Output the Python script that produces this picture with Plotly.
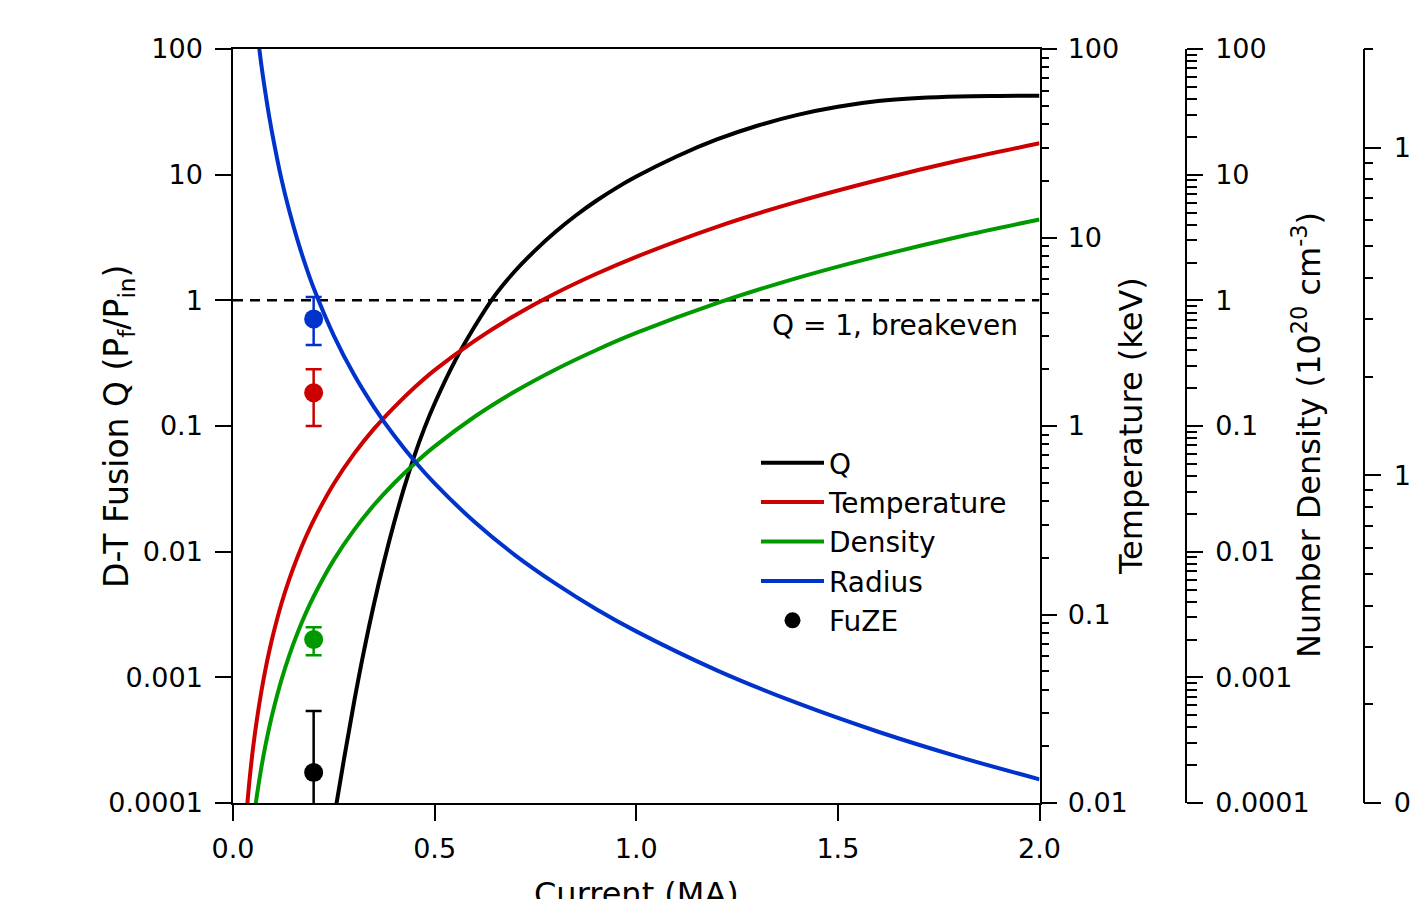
import plotly.graph_objects as go

# ---------------- data ----------------
# Fusion gain Q vs current (MA), left axis
q_current = [0.25, 0.275, 0.30, 0.325, 0.35, 0.375, 0.40, 0.425, 0.45, 0.475, 0.50, 0.55,
             0.60, 0.65, 0.70, 0.75, 0.80, 0.85, 0.90, 0.95, 1.0, 1.1, 1.2, 1.3, 1.4, 1.5,
             1.6, 1.7, 1.8, 1.9, 2.0]
q_values = [7.4e-5, 2.21e-4, 6.3e-4, 1.64e-3, 3.89e-3, 8.47e-3, 0.0172, 0.0328, 0.0582,
            0.0966, 0.151, 0.327, 0.624, 1.10, 1.72, 2.51, 3.51, 4.73, 6.17, 7.82, 9.66,
            13.96, 19.05, 24.5, 29.9, 34.7, 38.5, 40.7, 41.9, 42.3, 42.5]

# Temperature (keV) vs current
t_current = [0.03, 0.04, 0.05, 0.06, 0.07, 0.08, 0.09, 0.10, 0.12, 0.14, 0.16, 0.18, 0.20,
             0.25, 0.30, 0.35, 0.40, 0.45, 0.50, 0.6, 0.7, 0.8, 0.9, 1.0, 1.2, 1.4, 1.6,
             1.8, 2.0]
t_values = [0.0071, 0.0126, 0.0198, 0.0284, 0.0387, 0.0506, 0.064, 0.079, 0.114, 0.155,
            0.202, 0.256, 0.316, 0.494, 0.711, 0.968, 1.26, 1.60, 1.98, 2.84, 3.87, 5.06,
            6.40, 7.9, 11.4, 15.5, 20.2, 25.6, 31.6]

# Number density (1e20 cm^-3) vs current
n_current = [0.05, 0.06, 0.07, 0.08, 0.09, 0.10, 0.12, 0.14, 0.16, 0.18, 0.20, 0.25, 0.30,
             0.35, 0.40, 0.45, 0.50, 0.6, 0.7, 0.8, 0.9, 1.0, 1.2, 1.4, 1.6, 1.8, 2.0]
n_values = [6.9e-5, 1.19e-4, 1.89e-4, 2.82e-4, 4.01e-4, 5.5e-4, 9.5e-4, 1.51e-3, 2.25e-3,
            3.21e-3, 4.4e-3, 8.6e-3, 0.01485, 0.0236, 0.0352, 0.0501, 0.0688, 0.119,
            0.189, 0.282, 0.401, 0.55, 0.950, 1.51, 2.25, 3.21, 4.4]

# Pinch radius (mm) vs current
r_current = [0.06, 0.07, 0.08, 0.09, 0.10, 0.12, 0.14, 0.16, 0.18, 0.20, 0.25, 0.30, 0.35,
             0.40, 0.45, 0.50, 0.6, 0.7, 0.8, 0.9, 1.0, 1.2, 1.4, 1.6, 1.8, 2.0]
r_values = [22.7, 18.0, 14.8, 12.4, 10.6, 8.03, 6.38, 5.22, 4.37, 3.73, 2.67, 2.03, 1.613,
            1.32, 1.106, 0.945, 0.719, 0.570, 0.467, 0.391, 0.334, 0.254, 0.2016, 0.165,
            0.1383, 0.1181]

# Breakeven line
breakeven_current = [0.0, 2.0]
breakeven_q = [1.0, 1.0]

# FuZE experimental points (value, +err, -err)
fuze_current = [0.2]
fuze_q = [1.75e-4]; fuze_q_plus = [3.65e-4]; fuze_q_minus = [1.7e-4]
fuze_t = [1.5]; fuze_t_plus = [0.5]; fuze_t_minus = [0.5]
fuze_n = [0.002]; fuze_n_plus = [0.0005]; fuze_n_minus = [0.0005]
fuze_r = [3.0]; fuze_r_plus = [0.5]; fuze_r_minus = [0.5]

# Tick labels
x_ticks = [0.0, 0.5, 1.0, 1.5, 2.0]
x_ticktext = ["0.0", "0.5", "1.0", "1.5", "2.0"]
q_ticks = [1e-4, 1e-3, 1e-2, 0.1, 1, 10, 100]
q_ticktext = ["0.0001", "0.001", "0.01", "0.1", "1", "10", "100"]
t_ticks = [0.01, 0.1, 1, 10, 100]
t_ticktext = ["0.01", "0.1", "1", "10", "100"]
n_ticks = [1e-4, 1e-3, 1e-2, 0.1, 1, 10, 100]
n_ticktext = ["0.0001", "0.001", "0.01", "0.1", "1", "10", "100"]
r_ticks = [0.1, 1, 10]
r_ticktext = ["0.1", "1", "10"]

# ---------------- styling ----------------
BLACK = "#000000"
RED = "#cc0000"
GREEN = "#009a00"
BLUE = "#0033cc"
FONT = "DejaVu Sans"
OFF = 8                      # page margin of the html body
W, H = 1418 - OFF, 899 - OFF
L, R, T, B = 233 - OFF, 0, 49 - OFF, 899 - 803
PW = W - L - R
PH = H - T - B


def px_x(p):
    """screen pixel x -> paper coordinate"""
    return (p - OFF - L) / PW


def px_y(p):
    """screen pixel y -> paper coordinate"""
    return (H - B - (p - OFF)) / PH


def minor_vals(lo_exp, hi_exp, hi_limit=None):
    vals = []
    for e in range(lo_exp, hi_exp + 1):
        for m in range(2, 10):
            v = m * 10 ** e
            if hi_limit is None or v <= hi_limit * 1.0001:
                vals.append(v)
    return vals


fig = go.Figure()

LW = 4
SM = 1.0
fig.add_trace(go.Scatter(x=q_current, y=q_values, mode="lines", name="Q",
                         line=dict(color=BLACK, width=LW, shape="spline", smoothing=SM),
                         yaxis="y"))
fig.add_trace(go.Scatter(x=t_current, y=t_values, mode="lines", name="Temperature",
                         line=dict(color=RED, width=LW, shape="spline", smoothing=SM),
                         yaxis="y2"))
fig.add_trace(go.Scatter(x=n_current, y=n_values, mode="lines", name="Density",
                         line=dict(color=GREEN, width=LW, shape="spline", smoothing=SM),
                         yaxis="y3"))
fig.add_trace(go.Scatter(x=r_current, y=r_values, mode="lines", name="Radius",
                         line=dict(color=BLUE, width=LW, shape="spline", smoothing=SM),
                         yaxis="y4"))
fig.add_trace(go.Scatter(x=breakeven_current, y=breakeven_q, mode="lines", showlegend=False,
                         line=dict(color=BLACK, width=2.5, dash="10px,7px"), yaxis="y",
                         hoverinfo="skip"))


def fuze_trace(y, plus, minus, color, axis, show):
    return go.Scatter(
        x=fuze_current, y=y, mode="markers", name="FuZE", showlegend=show, yaxis=axis,
        marker=dict(color=color, size=19, line=dict(width=0)),
        error_y=dict(type="data", symmetric=False, array=plus, arrayminus=minus,
                     color=color, thickness=2.5, width=8))


fig.add_trace(fuze_trace(fuze_r, fuze_r_plus, fuze_r_minus, BLUE, "y4", False))
fig.add_trace(fuze_trace(fuze_t, fuze_t_plus, fuze_t_minus, RED, "y2", False))
fig.add_trace(fuze_trace(fuze_n, fuze_n_plus, fuze_n_minus, GREEN, "y3", False))
fig.add_trace(fuze_trace(fuze_q, fuze_q_plus, fuze_q_minus, BLACK, "y", True))

tickfont = dict(family=FONT, size=27, color=BLACK)
common = dict(showgrid=False, zeroline=False, showline=True, linecolor=BLACK, linewidth=1.5,
              ticks="outside", tickcolor=BLACK, tickwidth=1.5, tickfont=tickfont,
              automargin=False)

x_end = px_x(1039.5)

fig.update_layout(
    width=W, height=H,
    margin=dict(l=L, r=R, t=T, b=B, pad=0),
    paper_bgcolor="white", plot_bgcolor="white",
    font=dict(family=FONT, size=27, color=BLACK),
    xaxis=dict(domain=[0, x_end], range=[0, 2], tickvals=x_ticks, ticktext=x_ticktext,
               ticklen=16, mirror=True, ticklabelstandoff=5, **common),
    yaxis=dict(type="log", range=[-4, 2], tickvals=q_ticks, ticktext=q_ticktext,
               ticklen=16, anchor="x", ticklabelstandoff=7, **common),
    yaxis2=dict(type="log", range=[-2, 2], overlaying="y", side="right", anchor="x",
                tickvals=t_ticks, ticktext=t_ticktext, ticklen=16, ticklabelstandoff=5,
                minor=dict(ticks="outside", ticklen=8, tickwidth=1.5, tickcolor=BLACK,
                           tickvals=minor_vals(-2, 1), showgrid=False),
                **common),
    yaxis3=dict(type="log", range=[-4, 2], overlaying="y", side="right", anchor="free",
                position=px_x(1186), tickvals=n_ticks, ticktext=n_ticktext, ticklen=16,
                ticklabelstandoff=7,
                minor=dict(ticks="outside", ticklen=10, tickwidth=1.5, tickcolor=BLACK,
                           tickvals=minor_vals(-4, 1), showgrid=False),
                **common),
    yaxis4=dict(type="log", range=[-1, 1.30103], overlaying="y", side="right", anchor="free",
                position=px_x(1363.5), tickvals=r_ticks, ticktext=r_ticktext, ticklen=17,
                ticklabelstandoff=7,
                minor=dict(ticks="outside", ticklen=9, tickwidth=1.5, tickcolor=BLACK,
                           tickvals=minor_vals(-1, 1, 20), showgrid=False),
                **common),
    legend=dict(x=px_x(756), y=px_y(438), xanchor="left", yanchor="top",
                bgcolor="rgba(0,0,0,0)", font=dict(family=FONT, size=28, color=BLACK),
                itemsizing="trace", itemwidth=63, tracegroupgap=0),
    showlegend=True,
)

annots = [
    dict(text="Q = 1, breakeven", x=px_x(1020), y=px_y(325), xanchor="right",
         yanchor="middle", font=dict(family=FONT, size=28, color=BLACK)),
    dict(text="D-T Fusion Q (P<sub>f</sub>/P<sub>in</sub>)", x=px_x(118), y=px_y(427),
         xanchor="center", yanchor="middle", textangle=-90,
         font=dict(family=FONT, size=33, color=BLACK)),
    dict(text="Temperature (keV)", x=px_x(1131), y=px_y(426), xanchor="center",
         yanchor="middle", textangle=-90, font=dict(family=FONT, size=32, color=BLACK)),
    dict(text="Number Density (10<sup>20</sup> cm<sup>-3</sup>)", x=px_x(1307), y=px_y(435),
         xanchor="center", yanchor="middle", textangle=-90,
         font=dict(family=FONT, size=32, color=BLACK)),
    dict(text="Current (MA)", x=px_x(636), y=px_y(894), xanchor="center", yanchor="middle",
         font=dict(family=FONT, size=32, color=BLACK)),
]
for a in annots:
    a.update(xref="paper", yref="paper", showarrow=False)
fig.update_layout(annotations=annots)

fig.write_html("out.html")
